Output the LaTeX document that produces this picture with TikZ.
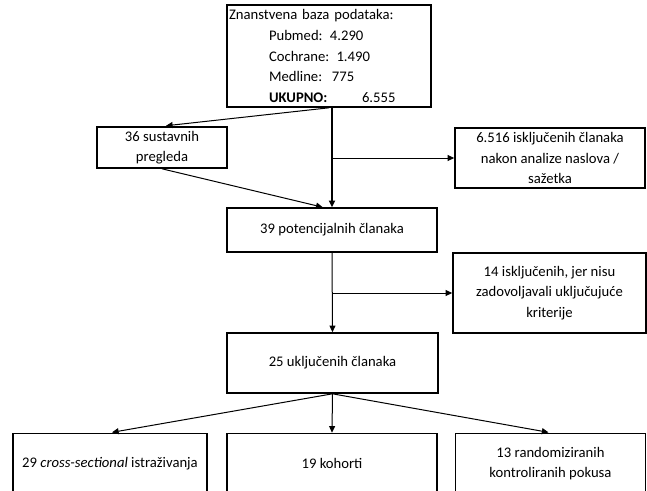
\documentclass[tikz,border=0pt]{standalone}
\usepackage{fontspec}
\setmainfont{Carlito}
\usetikzlibrary{arrows.meta}
\tikzset{
  box/.style={draw, line width=1.2pt, inner sep=0pt, align=center,
    font=\fontsize{11}{15.4}\selectfont},
  arr/.style={line width=0.75pt, -{Triangle[length=5pt,width=4.5pt]}},
  thickarr/.style={line width=1.5pt, -{Triangle[length=5pt,width=4.5pt]}},
}
\begin{document}
\begin{tikzpicture}[x=0.75pt,y=-0.75pt]
\useasboundingbox (0,0) rectangle (647,490);
\clip (0,0) rectangle (647,490);
% top box
\node[box, minimum width=204*0.75pt, minimum height=102*0.75pt,
  text width=200*0.75pt, align=left] (top) at (329,56)
  {Znanstvena baza podataka:\\
   \hspace*{30pt}Pubmed: 4.290\\
   \hspace*{30pt}Cochrane: 1.490\\
   \hspace*{30pt}Medline:\ \ 775\\
   \hspace*{30pt}\makebox[69.75pt][l]{\textbf{UKUPNO:}}6.555};
\node[box, minimum width=130*0.75pt, minimum height=41*0.75pt] (s36) at (162,147.5)
  {36 sustavnih\\pregleda};
\node[box, minimum width=190*0.75pt, minimum height=60*0.75pt] (ex1) at (550,158)
  {6.516 isključenih članaka\\nakon analize naslova /\\sažetka};
\node[box, minimum width=210*0.75pt, minimum height=44*0.75pt] (p39) at (332,230)
  {39 potencijalnih članaka};
\node[box, minimum width=193*0.75pt, minimum height=80*0.75pt] (ex2) at (549.5,293)
  {14 isključenih, jer nisu\\zadovoljavali uključujuće\\kriterije};
\node[box, minimum width=211*0.75pt, minimum height=60*0.75pt] (u25) at (332.5,363)
  {25 uključenih članaka};
\node[box, minimum width=194*0.75pt, minimum height=60*0.75pt] (b1) at (110,463.5)
  {29 \textit{cross-sectional} istraživanja};
\node[box, minimum width=210*0.75pt, minimum height=60*0.75pt] (b2) at (332,463.5)
  {19 kohorti};
\node[box, minimum width=190*0.75pt, minimum height=60*0.75pt] (b3) at (550.5,463.5)
  {13 randomiziranih\\kontroliranih pokusa};
% connectors
\draw[thickarr] (top.south -| p39.north) -- (p39.north);
\draw[arr, shorten >=3pt] (top.south) -- (s36.north);
\draw[arr] (ex1.west -| p39.north) -- (ex1.west);
\draw[arr] (s36.south) -- ([xshift=-7pt]p39.north);
\draw[arr] (p39.south) -- (u25.north);
\draw[arr] (ex2.west -| p39.south) -- (ex2.west);
\draw[arr, shorten >=1.5pt] (u25.south) -- (b1.north);
\draw[arr] (u25.south) -- (b2.north);
\draw[arr, shorten >=1.5pt] (u25.south) -- (b3.north);
\end{tikzpicture}
\end{document}
